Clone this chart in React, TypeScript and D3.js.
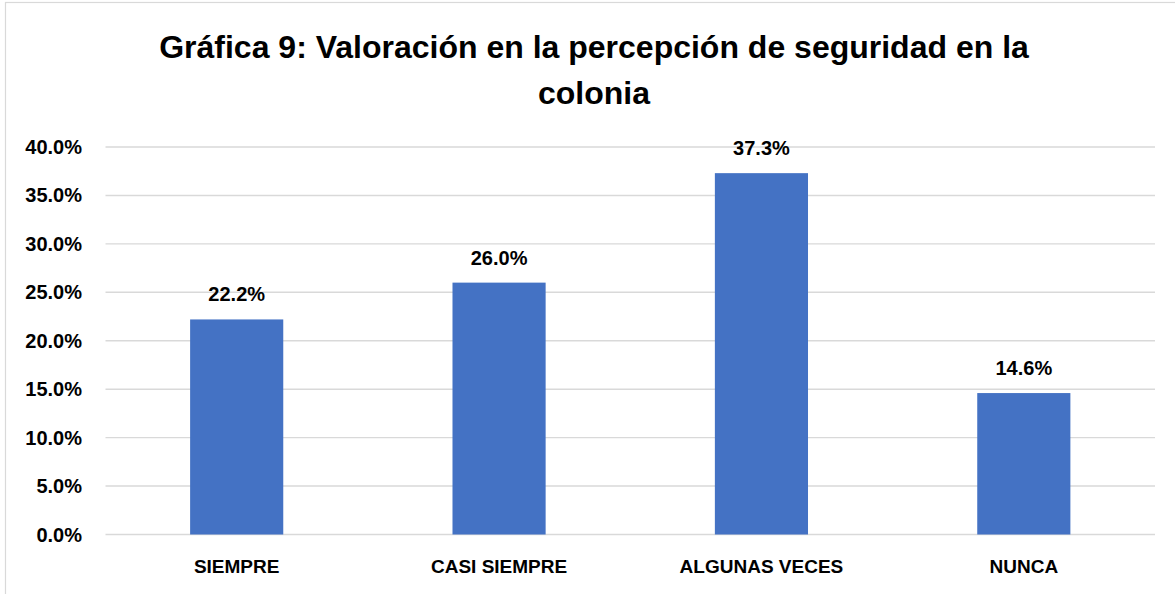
import React from "react";
import * as d3 from "d3";

const categories = ["SIEMPRE", "CASI SIEMPRE", "ALGUNAS VECES", "NUNCA"];
const values = [22.2, 26.0, 37.3, 14.6];
const yTicks = [0, 5, 10, 15, 20, 25, 30, 35, 40];
const titleLines = ["Gráfica 9: Valoración en la percepción de seguridad en la", "colonia"];

const W = 1175;
const H = 594;
const FONT = "'Liberation Sans', Arial, sans-serif";

export default function App() {
  const left = 105.5;
  const right = 1155;
  const y = d3.scaleLinear().domain([0, 40]).range([534.5, 147]);
  const x = d3.scaleBand<string>().domain(categories).range([left, right]).paddingInner(0.645).paddingOuter(0.3225);
  const fmt = (v: number) => v.toFixed(1) + "%";

  return (
    <svg width={W} height={H} style={{ position: "absolute", left: 0, top: 0, background: "#fff" }}>
      <rect x={5.5} y={2.5} width={1300} height={800} fill="#fff" stroke="#d9d9d9" strokeWidth={1.2} />
      {titleLines.map((t, i) => (
        <text key={i} x={594} y={57.5 + i * 46} textAnchor="middle" fontFamily={FONT} fontWeight="bold" fontSize={32} fill="#000">
          {t}
        </text>
      ))}
      {yTicks.map((t) => (
        <g key={t}>
          <line x1={left} x2={right} y1={y(t)} y2={y(t)} stroke="#d9d9d9" strokeWidth={1.4} />
          <text x={82} y={y(t)} dy="0.35em" textAnchor="end" fontFamily={FONT} fontWeight="bold" fontSize={20} fill="#000">
            {fmt(t)}
          </text>
        </g>
      ))}
      {categories.map((c, i) => (
        <g key={c}>
          <rect x={x(c)} y={y(values[i])} width={x.bandwidth()} height={y(0) - y(values[i])} fill="#4472C4" />
          <text x={(x(c) as number) + x.bandwidth() / 2} y={y(values[i]) - 18} textAnchor="middle" fontFamily={FONT} fontWeight="bold" fontSize={20} fill="#000">
            {fmt(values[i])}
          </text>
          <text x={(x(c) as number) + x.bandwidth() / 2} y={572.5} textAnchor="middle" fontFamily={FONT} fontWeight="bold" fontSize={19} fill="#000">
            {c}
          </text>
        </g>
      ))}
    </svg>
  );
}
